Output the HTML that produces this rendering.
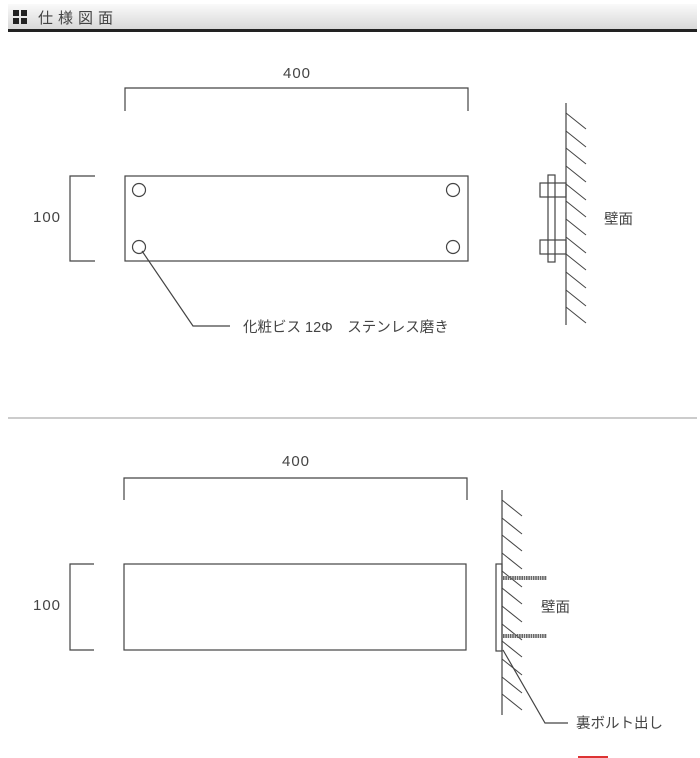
<!DOCTYPE html>
<html><head><meta charset="utf-8"><style>
html,body{margin:0;padding:0;background:#fff;width:700px;height:758px;overflow:hidden}
svg{display:block}
text{font-family:"Liberation Sans","Noto Sans CJK JP",sans-serif;fill:#444}
</style></head><body>
<svg width="700" height="758" viewBox="0 0 700 758" xmlns="http://www.w3.org/2000/svg">
<defs>
<linearGradient id="g" x1="0" y1="0" x2="0" y2="1"><stop offset="0" stop-color="#fafafa"/><stop offset="1" stop-color="#d8d8d8"/></linearGradient>
</defs>
<rect x="8" y="4" width="689" height="25" fill="url(#g)"/>
<rect x="8" y="29" width="689" height="3" fill="#222"/>
<rect x="13" y="10" width="6" height="6" fill="#222"/><rect x="21" y="10" width="6" height="6" fill="#222"/>
<rect x="13" y="18" width="6" height="6" fill="#222"/><rect x="21" y="18" width="6" height="6" fill="#222"/>
<text x="38" y="23" font-size="15" fill="#333" letter-spacing="5">仕様図面</text>

<g stroke="#444" stroke-width="1.2" fill="none">
<polyline points="125,111 125,88 468,88 468,111"/>
<rect x="125" y="176" width="343" height="85"/>
<polyline points="95,176 70,176 70,261 95,261"/>
<circle cx="139" cy="190" r="6.5"/><circle cx="453" cy="190" r="6.5"/>
<circle cx="139" cy="247" r="6.5"/><circle cx="453" cy="247" r="6.5"/>
<polyline points="142,251 193,326 230,326"/>
<line x1="566" y1="103" x2="566" y2="325"/>
<rect x="548" y="175" width="7" height="87"/>
<rect x="540" y="183" width="26" height="14"/>
<rect x="540" y="240" width="26" height="14"/>
<polyline points="124,500 124,478 467,478 467,500"/>
<rect x="124" y="564" width="342" height="86"/>
<polyline points="94,564 70,564 70,650 94,650"/>
<line x1="502" y1="490" x2="502" y2="715"/>
<rect x="496" y="564" width="6" height="87"/>
<polyline points="503,650 545,723 568,723"/>
</g>
<g stroke="#444" stroke-width="1">
<line x1="566" y1="113" x2="586" y2="129"/><line x1="566" y1="131" x2="586" y2="147"/>
<line x1="566" y1="148" x2="586" y2="164"/><line x1="566" y1="166" x2="586" y2="182"/>
<line x1="566" y1="184" x2="586" y2="200"/><line x1="566" y1="201" x2="586" y2="217"/>
<line x1="566" y1="219" x2="586" y2="235"/><line x1="566" y1="237" x2="586" y2="253"/>
<line x1="566" y1="254" x2="586" y2="270"/><line x1="566" y1="272" x2="586" y2="288"/>
<line x1="566" y1="290" x2="586" y2="306"/><line x1="566" y1="307" x2="586" y2="323"/>
<line x1="502" y1="500" x2="522" y2="516"/><line x1="502" y1="518" x2="522" y2="534"/>
<line x1="502" y1="535" x2="522" y2="551"/><line x1="502" y1="553" x2="522" y2="569"/>
<line x1="502" y1="571" x2="522" y2="587"/><line x1="502" y1="588" x2="522" y2="604"/>
<line x1="502" y1="606" x2="522" y2="622"/><line x1="502" y1="624" x2="522" y2="640"/>
<line x1="502" y1="641" x2="522" y2="657"/><line x1="502" y1="659" x2="522" y2="675"/>
<line x1="502" y1="677" x2="522" y2="693"/><line x1="502" y1="694" x2="522" y2="710"/>
</g>
<g stroke="#666" stroke-width="4" stroke-dasharray="1.6 0.7">
<line x1="503" y1="578" x2="547" y2="578"/>
<line x1="503" y1="636" x2="547" y2="636"/>
</g>
<line x1="8" y1="418" x2="697" y2="418" stroke="#bbb" stroke-width="1.5"/>
<rect x="578" y="756" width="30" height="2" fill="#d33"/>

<g font-size="14.5">
<text x="297" y="78" text-anchor="middle" font-size="15" letter-spacing="1">400</text>
<text x="47" y="222" text-anchor="middle" font-size="15" letter-spacing="1">100</text>
<text x="243" y="332">化粧ビス 12Φ　ステンレス磨き</text>
<text x="604" y="224">壁面</text>
<text x="296" y="466" text-anchor="middle" font-size="15" letter-spacing="1">400</text>
<text x="47" y="610" text-anchor="middle" font-size="15" letter-spacing="1">100</text>
<text x="541" y="612">壁面</text>
<text x="576" y="728">裏ボルト出し</text>
</g>
</svg>
</body></html>
